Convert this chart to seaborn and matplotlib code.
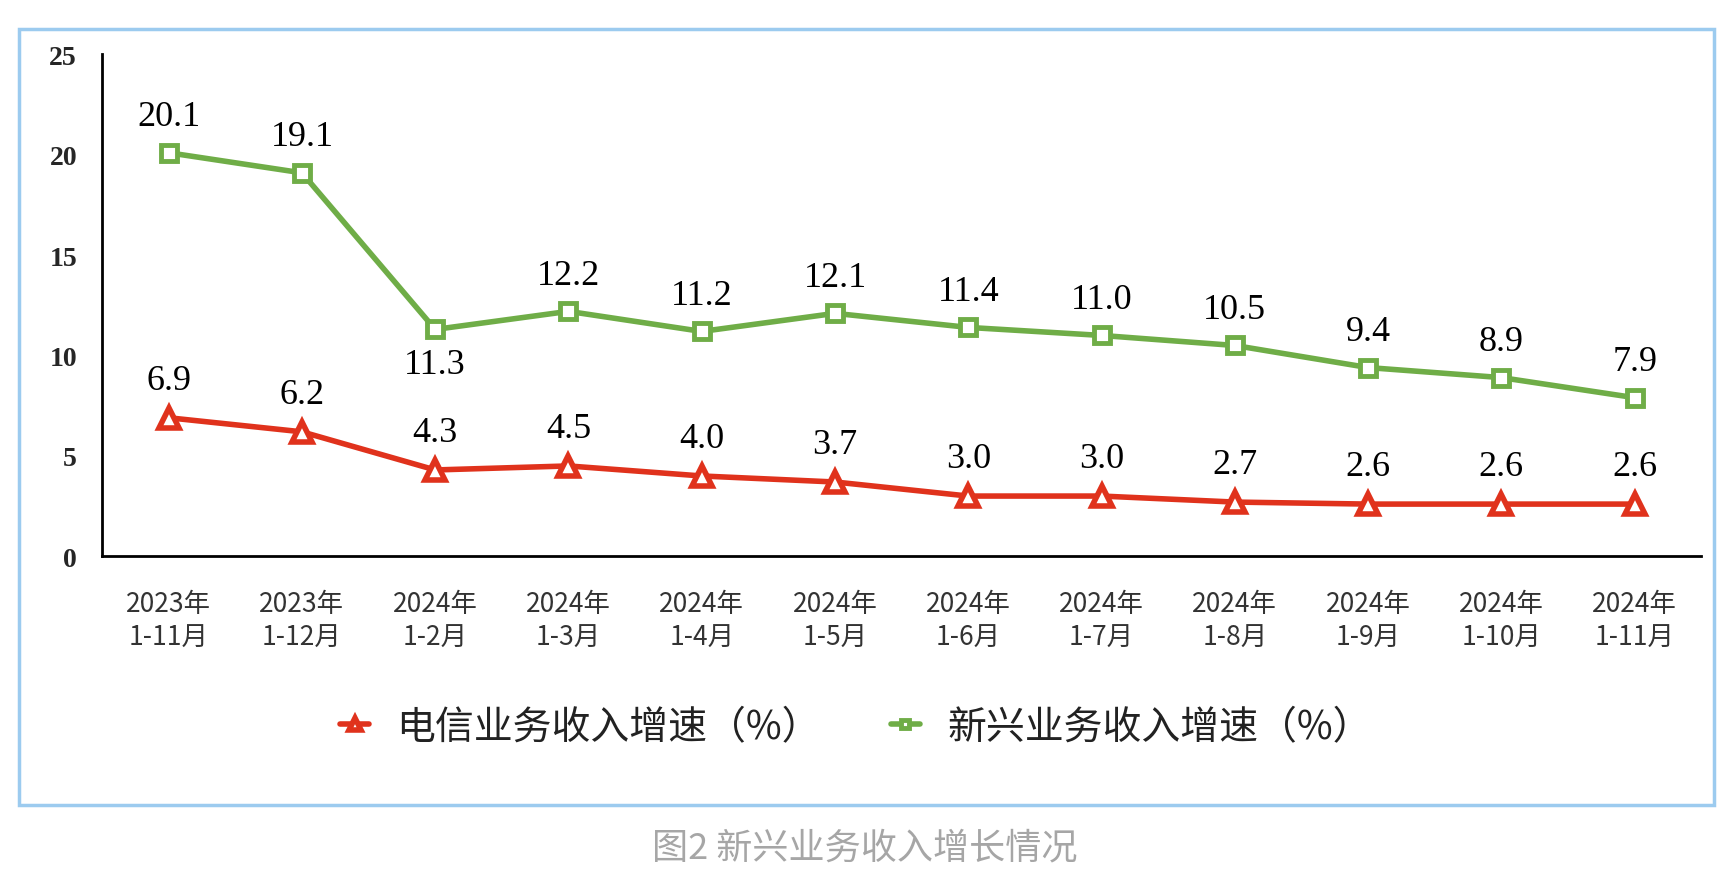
import matplotlib
matplotlib.use('Agg')
import matplotlib.pyplot as plt
import pandas as pd
import seaborn as sns
from matplotlib.patches import Rectangle
from matplotlib.ticker import FixedLocator, NullFormatter


periods = ['2023年\n1-11月', '2023年\n1-12月', '2024年\n1-2月', '2024年\n1-3月',
           '2024年\n1-4月', '2024年\n1-5月', '2024年\n1-6月', '2024年\n1-7月',
           '2024年\n1-8月', '2024年\n1-9月', '2024年\n1-10月', '2024年\n1-11月']
telecom = [6.9, 6.2, 4.3, 4.5, 4.0, 3.7, 3.0, 3.0, 2.7, 2.6, 2.6, 2.6]
emerging = [20.1, 19.1, 11.3, 12.2, 11.2, 12.1, 11.4, 11.0, 10.5, 9.4, 8.9, 7.9]
telecom_name = '电信业务收入增速（%）'
emerging_name = '新兴业务收入增速（%）'
caption = '图2 新兴业务收入增长情况'

red = '#e0321c'
green = '#6fad47'

sns.set_theme(style='white')
plt.rcParams['font.family'] = ['Liberation Serif', 'Noto Sans CJK SC', 'DejaVu Sans']

df = pd.DataFrame({'pos': range(len(periods)), 'telecom': telecom, 'emerging': emerging})

fig = plt.figure(figsize=(17.29, 8.79), dpi=100)
ax = fig.add_axes([0.059, 0.366, 0.925, 0.571])

sns.lineplot(data=df, x='pos', y='telecom', ax=ax, color=red, lw=4, marker='^',
             ms=15, mew=4, mfc='white', mec=red, label=telecom_name)
sns.lineplot(data=df, x='pos', y='emerging', ax=ax, color=green, lw=4, marker='s',
             ms=11, mew=3.5, mfc='white', mec=green, label=emerging_name)

for i, v in enumerate(telecom):
    ax.annotate(f'{v:.1f}', (i, v), xytext=(0, 27), textcoords='offset points',
                ha='center', va='center', fontsize=26, family='Liberation Serif', color='black')
for i, v in enumerate(emerging):
    dy = -25 if i == 2 else 26
    ax.annotate(f'{v:.1f}', (i, v), xytext=(0, dy), textcoords='offset points',
                ha='center', va='center', fontsize=26, family='Liberation Serif', color='black')

ax.set_xlim(-0.5, len(periods) - 0.5)
ax.set_ylim(0, 25)
ax.set_yticks([0, 5, 10, 15, 20, 25])
ax.set_yticklabels(['0', '5', '10', '15', '20', '25'], fontsize=20,
                   fontweight='bold', family='Liberation Serif')
ax.xaxis.set_major_locator(FixedLocator([i - 0.5 for i in range(len(periods) + 1)]))
ax.xaxis.set_major_formatter(NullFormatter())
ax.xaxis.set_minor_locator(FixedLocator(list(range(len(periods)))))
ax.set_xticklabels(periods, minor=True, fontsize=19, color='#333333',
                   family=['Noto Sans CJK SC'], linespacing=1.35)
ax.tick_params(axis='x', which='major', direction='out', length=10, width=1.5, color='black')
ax.tick_params(axis='x', which='minor', length=0, pad=24)
ax.tick_params(axis='y', direction='out', length=10, width=1.5, color='black', pad=8)
ax.set_xlabel('')
ax.set_ylabel('')
for side in ['top', 'right']:
    ax.spines[side].set_visible(False)
for side in ['left', 'bottom']:
    ax.spines[side].set_color('black')
    ax.spines[side].set_linewidth(2)

ax.legend_.remove()
handles, labels = ax.get_legend_handles_labels()
leg = fig.legend(handles, labels, loc='center', bbox_to_anchor=(0.495, 0.172), ncol=2,
                 frameon=False, handlelength=0.75, columnspacing=1.8, handletextpad=0.7,
                 prop={'family': ['Noto Sans CJK SC'], 'size': 28}, markerscale=0.55)
for t in leg.get_texts():
    t.set_color('#222222')

fig.patches.append(Rectangle((19 / 1729, 1 - 806 / 879), (1714 - 19) / 1729, (806 - 30) / 879,
                             transform=fig.transFigure, fill=False, ec='#9ccbef', lw=2.5))
fig.text(0.5, 1 - 848 / 879, caption, ha='center', va='center', fontsize=26,
         color='#a6a6a6', family=['Noto Sans CJK SC'])

fig.savefig('out.png', dpi=100)
